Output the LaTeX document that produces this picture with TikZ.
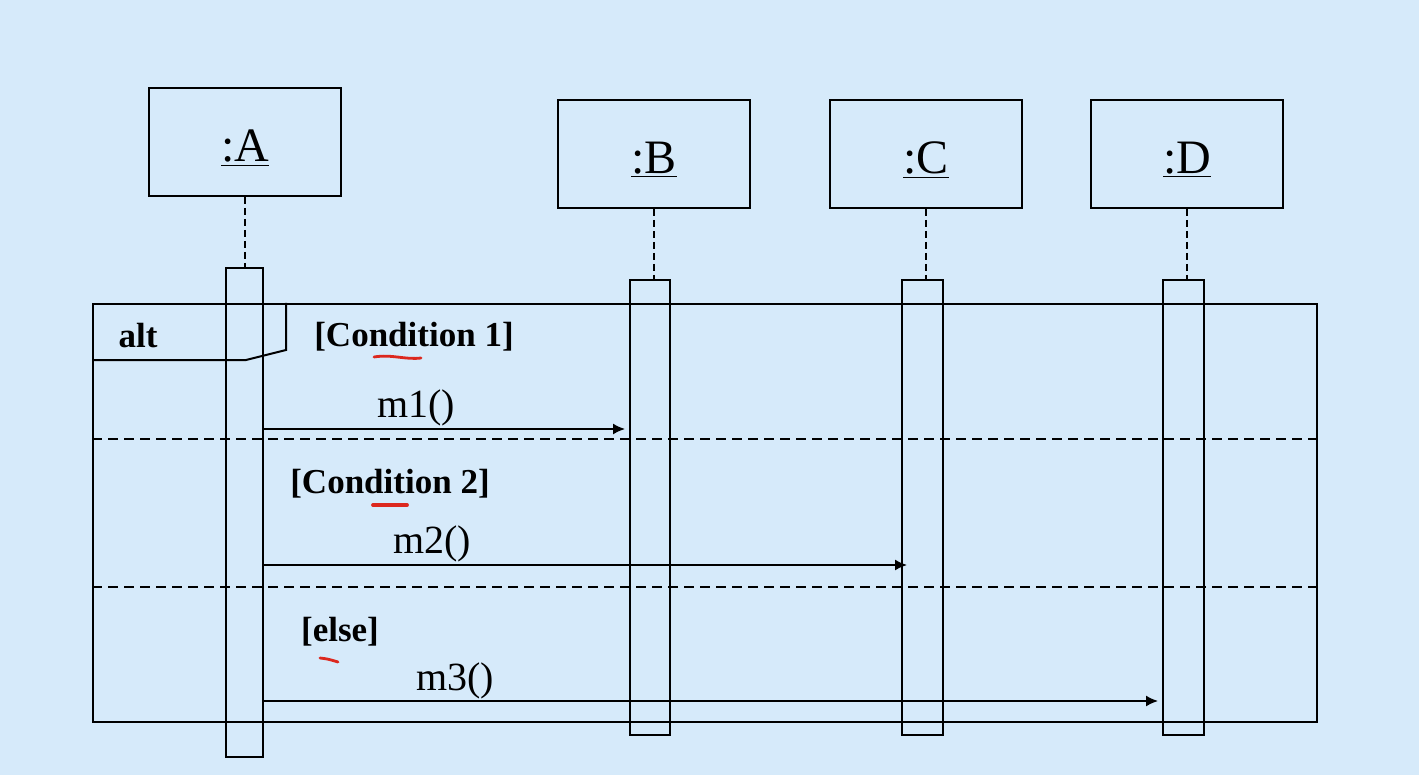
\documentclass[tikz,border=0pt]{standalone}
\usepackage{fontspec}
\setmainfont{Liberation Serif}
\usetikzlibrary{arrows.meta, positioning}
\definecolor{bgblue}{RGB}{214,234,250}
\definecolor{penred}{RGB}{220,40,30}
\tikzset{head/.style={draw,line width=1pt,minimum width=96pt,minimum height=54pt},
         hlabel/.style={font=\fontsize{24}{28}\selectfont,yshift=-3pt},
         act/.style={draw,line width=1pt,minimum width=20pt,inner sep=0pt},
         lifeline/.style={line width=1pt,dash pattern=on 3.5pt off 2pt},
         sep/.style={line width=0.9pt,dash pattern=on 5pt off 3pt},
         guard/.style={font=\bfseries\fontsize{17.5}{20}\selectfont},
         msglabel/.style={font=\fontsize{20}{24}\selectfont},
         msg/.style={line width=0.8pt,-{Latex[length=6pt,width=5.5pt]}},
         penmark/.style={penred,line width=1.4pt,line cap=round}}

\begin{document}
\begin{tikzpicture}[x=0.5pt,y=-0.5pt]
        \fill[bgblue] (0,0) rectangle (1419,775);

        \node[head, label={[hlabel]center:\underline{:A}}](hA)at(245,142){};
        \node[head, label={[hlabel]center:\underline{:B}}](hB)at(654,154){};
        \node[head, label={[hlabel]center:\underline{:C}}](hC)at(926,154){};
        \node[head, label={[hlabel]center:\underline{:D}}](hD)at(1187,154){};

        \node[act, minimum width=18.5pt, minimum height=244.5pt](actA)at(244.5,512.5){};
        \node[act, minimum height=227.5pt](actB)at(650,507.5){};
        \node[act, minimum width=20.5pt, minimum height=227.5pt](actC)at(922.5,507.5){};
        \node[act, minimum width=20.5pt, minimum height=227.5pt](actD)at(1183.5,507.5){};

        \draw[lifeline](hA.south)--(hA.south |- actA.north);
        \draw[lifeline](hB.south)--(hB.south |- actB.north);
        \draw[lifeline](hC.south)--(hC.south |- actC.north);
        \draw[lifeline](hD.south)--(hD.south |- actD.north);

        \node[draw, line width=1pt, minimum width=612pt, minimum height=209pt](frame)at(705,513){};
        \draw[line width=1pt](frame.west |- 0,360)--(246,360)--(286,350)--(frame.north -| 286,0);
        \node[guard](alt)at(138,336){alt};

        \draw[sep](frame.west |- 0,439)--(frame.east |- 0,439);
        \draw[sep](frame.west |- 0,587)--(frame.east |- 0,587);

        \node[guard](g1)at(414,337){[Condition 1]};
        \node[guard](g2)at(390,484){[Condition 2]};
        \node[guard](g3)at(340,632){[else]};

        \node[msglabel](m1)at(416,408){m1()};
        \node[msglabel](m2)at(432,544){m2()};
        \node[msglabel](m3)at(455,681){m3()};

        \draw[msg, shorten >=2pt](actA.east |- 0,429)--(actB.west |- 0,429);
        \draw[msg, shorten >=-3pt](actA.east |- 0,565)--(actC.west |- 0,565);
        \draw[msg, shorten >=2pt](actA.east |- 0,701)--(actD.west |- 0,701);

        \draw[penmark](374,357) .. controls (392,354) and (405,360) .. (421,358);
        \draw[penmark, line width=1.9pt](373,505)--(407,505);
        \draw[penmark](320,658) .. controls (328,659) .. (338,662);
    \end{tikzpicture}
\end{document}
